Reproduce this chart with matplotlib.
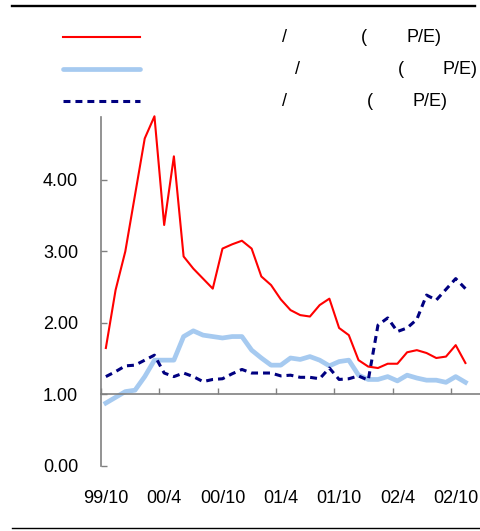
import numpy as np
import matplotlib
matplotlib.use("Agg")
import matplotlib.pyplot as plt
from matplotlib.lines import Line2D

plt.rcParams['font.family'] = ['Liberation Sans', 'DejaVu Sans']
plt.rcParams['lines.scale_dashes'] = False

months = ["99/10", "99/11", "99/12", "00/1", "00/2", "00/3", "00/4", "00/5", "00/6", "00/7",
          "00/8", "00/9", "00/10", "00/11", "00/12", "01/1", "01/2", "01/3", "01/4", "01/5",
          "01/6", "01/7", "01/8", "01/9", "01/10", "01/11", "01/12", "02/1", "02/2", "02/3",
          "02/4", "02/5", "02/6", "02/7", "02/8", "02/9", "02/10", "02/11", "02/12"]

series_red = [1.65, 2.46, 3.00, 3.79, 4.58, 4.89, 3.37, 4.33, 2.93, 2.76,
              2.62, 2.48, 3.04, 3.10, 3.15, 3.04, 2.65, 2.53, 2.33, 2.18,
              2.11, 2.09, 2.25, 2.34, 1.93, 1.83, 1.48, 1.39, 1.37, 1.43,
              1.43, 1.59, 1.62, 1.58, 1.51, 1.53, 1.69, 1.44]
series_lightblue = [0.88, 0.96, 1.04, 1.06, 1.25, 1.48, 1.48, 1.48, 1.81, 1.89,
                    1.83, 1.81, 1.79, 1.81, 1.81, 1.62, 1.51, 1.41, 1.41, 1.51,
                    1.49, 1.53, 1.48, 1.40, 1.46, 1.48, 1.27, 1.21, 1.21, 1.25,
                    1.19, 1.27, 1.23, 1.20, 1.20, 1.17, 1.25, 1.17]
series_navy = [1.25, 1.32, 1.40, 1.41, 1.48, 1.55, 1.30, 1.25, 1.30, 1.25,
               1.18, 1.21, 1.22, 1.29, 1.35, 1.30, 1.30, 1.30, 1.26, 1.27,
               1.24, 1.24, 1.22, 1.37, 1.21, 1.22, 1.26, 1.20, 1.97, 2.07,
               1.88, 1.93, 2.05, 2.39, 2.32, 2.47, 2.62, 2.48]

xtick_labels = ["99/10", "00/4", "00/10", "01/4", "01/10", "02/4", "02/10"]
ytick_labels = ["0.00", "1.00", "2.00", "3.00", "4.00"]
ytick_values = [0, 1, 2, 3, 4]

legend_rows = [
    ["/", "(", "P/E)"],
    ["/", "(", "P/E)"],
    ["/", "(", "P/E)"],
]

W, H = 480, 531
fig = plt.figure(figsize=(W / 100, H / 100), dpi=100)
ax = fig.add_axes([101 / W, (H - 466) / H, 1 - 101 / W, (466 - 117) / H])

x = np.arange(len(series_red)) + 0.5
red_c = '#FF0000'
lb_c = '#A6CAF0'
navy_c = '#000080'

ax.plot(x, series_lightblue, color=lb_c, lw=3.4, solid_joinstyle='round', zorder=2, clip_on=False)
ax.plot(x, series_navy, color=navy_c, lw=2.2, dashes=(5, 3.6), zorder=3, clip_on=False)
ax.plot(x, series_red, color=red_c, lw=1.5, zorder=4, clip_on=False)

ax.set_xlim(0, len(months))
ax.set_ylim(0, 4.88)

for s in ['top', 'right']:
    ax.spines[s].set_visible(False)
grey = '#808080'
ax.spines['left'].set_color(grey)
ax.spines['left'].set_linewidth(1.2)
ax.spines['bottom'].set_color(grey)
ax.spines['bottom'].set_linewidth(1.2)
ax.spines['bottom'].set_position(('data', 1.0))

ax.set_yticks(ytick_values, ytick_labels)
ax.tick_params(axis='y', direction='in', length=4.5, width=1.0, color=grey,
               pad=16.5, labelsize=13, labelcolor='black')

tick_idx = [months.index(m) for m in xtick_labels]
ax.set_xticks(tick_idx)
ax.tick_params(axis='x', direction='in', length=4.5, width=1.0, color=grey,
               labelbottom=False)

sec = ax.secondary_xaxis(0)
sec.set_xticks([i + 0.5 for i in tick_idx], xtick_labels)
sec.tick_params(length=0, pad=17, labelsize=13)
sec.spines['bottom'].set_visible(False)

# legend keys
rows_y = [37, 69, 101]
styles = [dict(color=red_c, lw=1.5),
          dict(color=lb_c, lw=3.4, solid_capstyle='round'),
          dict(color=navy_c, lw=2.2, dashes=(5, 3.6))]
for yy, st in zip(rows_y, styles):
    fig.add_artist(Line2D([63 / W, 140 / W], [1 - yy / H, 1 - yy / H], **st))

text_x = [[282, 361, 407], [295, 398, 443], [282, 367, 413]]
for yy, parts, xs in zip(rows_y, legend_rows, text_x):
    for p, xx in zip(parts, xs):
        fig.text(xx / W, 1 - yy / H, p, ha='left', va='center', fontsize=13)

# frame lines
fig.add_artist(Line2D([12 / W, 475 / W], [1 - 6 / H, 1 - 6 / H], color='black', lw=1.7))
fig.add_artist(Line2D([12 / W, 1.0], [1 - 528 / H, 1 - 528 / H], color='black', lw=1.0))

fig.savefig("out.png", dpi=100)
